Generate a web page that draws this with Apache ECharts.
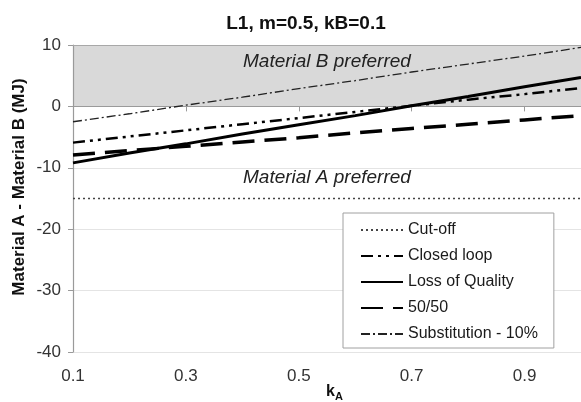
<!DOCTYPE html>
<html>
<head>
<meta charset="utf-8">
<script src="https://cdn.jsdelivr.net/npm/echarts@6/dist/echarts.min.js"></script>
<style>html,body{margin:0;padding:0;background:#fff}#c{width:581px;height:402px}</style>
</head>
<body>
<div id="c"></div>
<script>
var kA = [0.1, 0.2, 0.3, 0.4, 0.5, 0.6, 0.7, 0.8, 0.9, 1.0];
var cutOff = [-15, -15, -15, -15, -15, -15, -15, -15, -15, -15];
var closedLoop = [-5.9, -4.9, -3.9, -2.9, -1.9, -0.9, 0.1, 1.1, 2.0, 3.0];
var lossOfQuality = [-9.2, -7.6, -6.1, -4.5, -3.0, -1.5, 0.1, 1.6, 3.2, 4.7];
var fiftyFifty = [-7.9, -7.2, -6.5, -5.8, -5.1, -4.3, -3.6, -2.9, -2.2, -1.5];
var substitution = [-2.5, -1.2, 0.2, 1.5, 2.9, 4.2, 5.6, 6.9, 8.2, 9.6];
var xTicks = [0.1, 0.3, 0.5, 0.7, 0.9];
var yMin = -40, yMax = 10, yStep = 10;
var bandRange = [0, 10];
var seriesNames = ['Cut-off', 'Closed loop', 'Loss of Quality', '50/50', 'Substitution - 10%'];

function pairs(v) { return kA.map(function (x, i) { return [x, v[i]]; }); }

var FONT = "'Liberation Sans', Arial, sans-serif";
var chart = echarts.init(document.getElementById('c'), null, {renderer: 'canvas'});
chart.setOption({
  animation: false,
  backgroundColor: '#fff',
  textStyle: {fontFamily: FONT},
  title: {
    text: 'L1, m=0.5, kB=0.1',
    left: 301, top: 9, textAlign: 'center',
    textStyle: {fontSize: 19, fontWeight: 'bold', color: '#111', fontFamily: FONT}
  },
  grid: {left: 73, top: 45, width: 513, height: 307, containLabel: false},
  xAxis: [{
    type: 'value', min: 0.1, max: 1.0,
    axisLine: {show: true, lineStyle: {color: '#9a9a9a', width: 1.2}},
    axisTick: {show: true, length: 5, customValues: xTicks, lineStyle: {color: '#9a9a9a'}},
    axisLabel: {customValues: xTicks, fontSize: 17, color: '#333', margin: 16, fontFamily: FONT,
      formatter: function (v) { return v.toFixed(1); }},
    splitLine: {show: false}
  }, {
    type: 'value', min: 0.1, max: 1.0, position: 'top',
    axisLine: {show: true, lineStyle: {color: '#a8a8a8', width: 1}},
    axisTick: {show: false}, axisLabel: {show: false}, splitLine: {show: false}
  }],
  yAxis: {
    type: 'value', min: yMin, max: yMax, interval: yStep,
    axisLine: {show: true, lineStyle: {color: '#9a9a9a', width: 1.2}},
    axisTick: {show: true, length: 5, inside: false, lineStyle: {color: '#9a9a9a'}},
    axisLabel: {fontSize: 17, color: '#333', margin: 12, fontFamily: FONT},
    splitLine: {show: true, lineStyle: {color: '#e4e4e4', width: 1}}
  },
  legend: {
    orient: 'vertical', left: 343, top: 213,
    data: seriesNames,
    padding: [9, 16, 6, 17],
    itemWidth: 42, itemHeight: 14, itemGap: 10,
    backgroundColor: '#fff', borderColor: '#a0a0a0', borderWidth: 1,
    textStyle: {fontSize: 16, color: '#1a1a1a', fontFamily: FONT},
    itemStyle: {opacity: 0, borderWidth: 0}
  },
  graphic: [
    {type: 'text', z: 100, left: 243, top: 52, style: {text: 'Material B preferred', font: 'italic 19px ' + FONT, fill: '#222'}},
    {type: 'text', z: 100, left: 243, top: 168, style: {text: 'Material A preferred', font: 'italic 19px ' + FONT, fill: '#222'}},
    {type: 'text', z: 100, x: 19, y: 187, rotation: Math.PI / 2,
      style: {text: 'Material A - Material B (MJ)', font: 'bold 17px ' + FONT, fill: '#111', align: 'center', verticalAlign: 'middle'}},
    {type: 'text', z: 100, left: 326, top: 384, style: {text: 'k', font: 'bold 16px ' + FONT, fill: '#111'}},
    {type: 'text', z: 100, left: 335, top: 391, style: {text: 'A', font: 'bold 11px ' + FONT, fill: '#111'}}
  ],
  series: [
    {name: seriesNames[0], type: 'line', symbol: 'none', data: pairs(cutOff), z: 3,
      lineStyle: {color: '#444', width: 1.4, type: [2, 3]}, itemStyle: {color: '#444'},
      markArea: {silent: true, itemStyle: {color: '#d9d9d9'}, z: 0,
        data: [[{yAxis: bandRange[0]}, {yAxis: bandRange[1]}]]}},
    {name: seriesNames[1], type: 'line', symbol: 'none', data: pairs(closedLoop), z: 4,
      lineStyle: {color: '#000', width: 2.5, type: [12, 5, 3, 5, 3, 5]}, itemStyle: {color: '#000'}},
    {name: seriesNames[2], type: 'line', symbol: 'none', data: pairs(lossOfQuality), z: 5,
      lineStyle: {color: '#000', width: 3}, itemStyle: {color: '#000'}},
    {name: seriesNames[3], type: 'line', symbol: 'none', data: pairs(fiftyFifty), z: 4,
      lineStyle: {color: '#000', width: 3.5, type: [22, 10]}, itemStyle: {color: '#000'}},
    {name: seriesNames[4], type: 'line', symbol: 'none', data: pairs(substitution), z: 4,
      lineStyle: {color: '#222', width: 1.3, type: [9, 3, 2, 3]}, itemStyle: {color: '#222'}}
  ]
});
</script>
</body>
</html>
